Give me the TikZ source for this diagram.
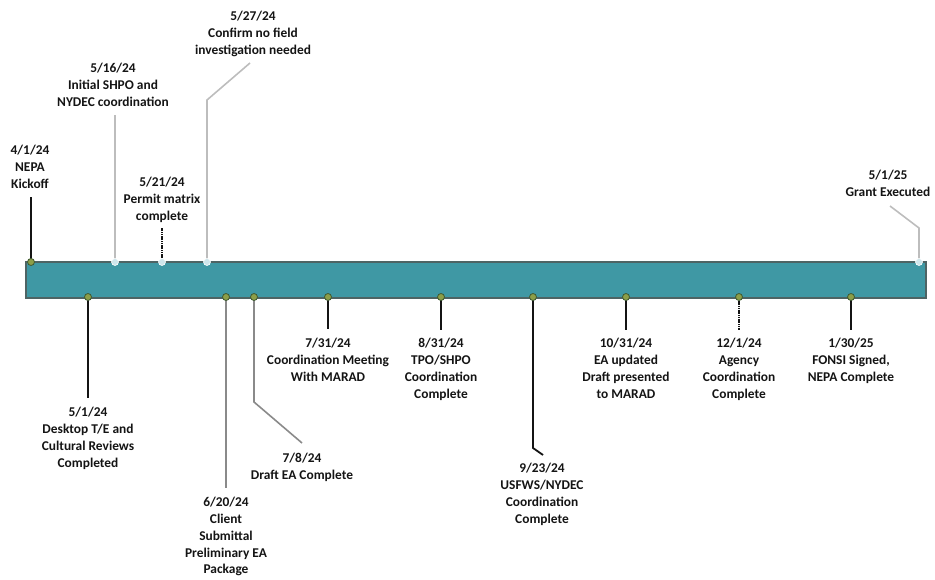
\documentclass[tikz,border=0pt]{standalone}
\usepackage{fontspec}
\setmainfont{Carlito}
\definecolor{barfill}{HTML}{3F98A4}
\definecolor{baredge}{HTML}{4E6464}
\definecolor{dotgreen}{HTML}{8C9E48}
\definecolor{dotedge}{HTML}{3E5A32}
\definecolor{dotlight}{HTML}{CFE6EC}
\definecolor{lightline}{HTML}{BDBDBD}
\definecolor{midline}{HTML}{8A8A8A}
\definecolor{txt}{HTML}{141414}
\tikzset{
  lbl/.style={font=\bfseries\fontsize{13.4}{16.8}\selectfont, text=txt, align=center, inner sep=0pt, anchor=north},
  gdot/.style={circle, fill=dotgreen, draw=dotedge, line width=0.8pt, minimum size=7pt, inner sep=0pt},
  ldot/.style={circle, fill=dotlight, draw=white, line width=0.6pt, minimum size=7pt, inner sep=0pt},
  darkline/.style={draw=txt, line width=1.8pt},
  greyline/.style={draw=lightline, line width=1.6pt},
  midgrey/.style={draw=midline, line width=1.6pt},
  dashline/.style={draw=txt, line width=1.8pt, dash pattern=on 1.2pt off 0.6pt},
}
\begin{document}
\begin{tikzpicture}[x=1pt,y=-1pt]
\useasboundingbox (0,0) rectangle (935,580);
% bar
\node[draw=baredge, fill=barfill, line width=1.6pt, minimum width=900pt, minimum height=36pt, inner sep=0pt, anchor=north west] (bar) at (25,261.5) {};

% ---------- top milestones ----------
\coordinate (d1) at (31,262);
\coordinate (e1) at (31,197);
\node[lbl] (t1) at (30,145) {4/1/24\\NEPA\\Kickoff};

\coordinate (d2) at (115,262);
\coordinate (e2) at (115,115);
\node[lbl] (t2) at (113,63) {5/16/24\\Initial SHPO and\\NYDEC coordination};

\coordinate (d3) at (162,262);
\coordinate (e3) at (162,228);
\node[lbl] (t3) at (162,177) {5/21/24\\Permit matrix\\complete};

\coordinate (d4) at (207,262);
\coordinate (b4) at (207,100);
\coordinate (e4) at (250,63);
\node[lbl] (t4) at (253,11) {5/27/24\\Confirm no field\\investigation needed};

\coordinate (d5) at (919,262);
\coordinate (b5) at (919,228);
\coordinate (e5) at (890,206);
\node[lbl] (t5) at (888,170) {5/1/25\\Grant Executed};

\draw[darkline] (d1) -- (e1);
\draw[greyline] (d2) -- (e2);
\draw[dashline] (d3) -- (e3);
\draw[greyline] (d4) -- (b4) -- (e4);
\draw[greyline] (d5) -- (b5) -- (e5);

% ---------- bottom milestones ----------
\coordinate (m1) at (88,297);
\coordinate (f1) at (88,398);
\node[lbl] (u1) at (88,407) {5/1/24\\Desktop T/E and\\Cultural Reviews\\Completed};

\coordinate (m2) at (226,297);
\coordinate (f2) at (226,488);
\node[lbl] (u2) at (226,497) {6/20/24\\Client\\Submittal\\Preliminary EA\\Package};

\coordinate (m3) at (254,297);
\coordinate (c3) at (254,402);
\coordinate (f3) at (302,443);
\node[lbl] (u3) at (302,453) {7/8/24\\Draft EA Complete};

\coordinate (m4) at (328,297);
\coordinate (f4) at (328,329);
\node[lbl] (u4) at (328,338) {7/31/24\\Coordination Meeting\\With MARAD};

\coordinate (m5) at (441,297);
\coordinate (f5) at (441,330);
\node[lbl] (u5) at (441,338) {8/31/24\\TPO/SHPO\\Coordination\\Complete};

\coordinate (m6) at (533,297);
\coordinate (c6) at (533,448);
\coordinate (f6) at (543,455);
\node[lbl] (u6) at (542,463) {9/23/24\\USFWS/NYDEC\\Coordination\\Complete};

\coordinate (m7) at (626,297);
\coordinate (f7) at (626,330);
\node[lbl] (u7) at (626,338) {10/31/24\\EA updated\\Draft presented\\to MARAD};

\coordinate (m8) at (739,297);
\coordinate (f8) at (739,330);
\node[lbl] (u8) at (739,338) {12/1/24\\Agency\\Coordination\\Complete};

\coordinate (m9) at (851,297);
\coordinate (f9) at (851,330);
\node[lbl] (u9) at (851,338) {1/30/25\\FONSI Signed,\\NEPA Complete};

\draw[darkline] (m1) -- (f1);
\draw[midgrey] (m2) -- (f2);
\draw[midgrey] (m3) -- (c3) -- (f3);
\draw[darkline] (m4) -- (f4);
\draw[darkline] (m5) -- (f5);
\draw[darkline] (m6) -- (c6) -- (f6);
\draw[darkline] (m7) -- (f7);
\draw[dashline] (m8) -- (f8);
\draw[darkline] (m9) -- (f9);

% dots
\node[gdot] (g1) at (d1) {};
\node[ldot] (g2) at (d2) {};
\node[ldot] (g3) at (d3) {};
\node[ldot] (g4) at (d4) {};
\node[ldot] (g5) at (d5) {};
\foreach \i in {1,...,9} {\node[gdot] (h\i) at (m\i) {};}
\end{tikzpicture}
\end{document}
